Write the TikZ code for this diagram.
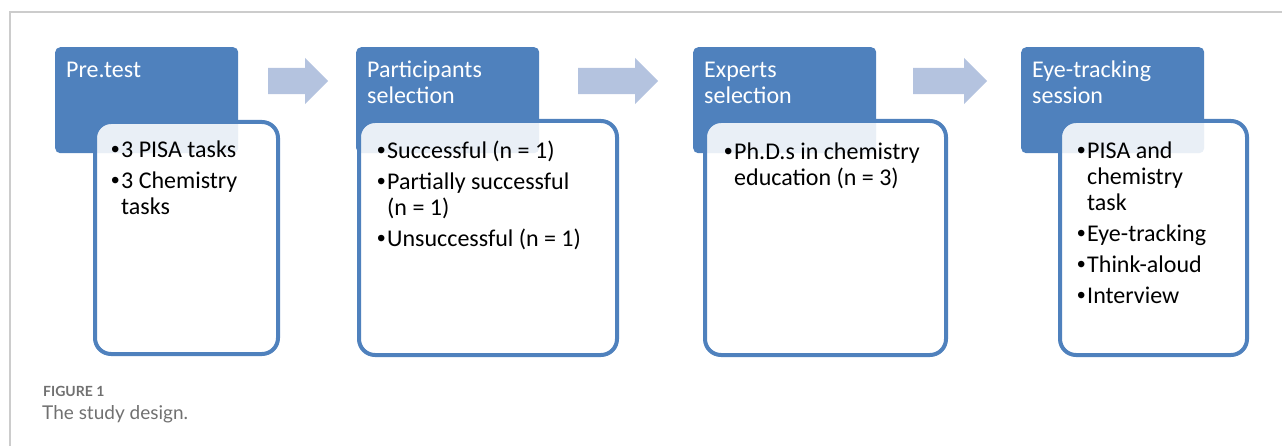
\documentclass[tikz,border=0pt]{standalone}
\usepackage{fontspec}
\setmainfont{Carlito}
\newfontfamily\capfont{Lato}
\newfontfamily\bulfont{Liberation Sans}
\usepackage{tikz}
\usetikzlibrary{shapes.arrows,positioning}
\definecolor{stageblue} {HTML}{4F81BD}
\definecolor{arrowblue} {HTML}{B4C3DF}
\definecolor{framegray} {HTML}{CCCCCC}
\definecolor{capgray}   {HTML}{707070}
\newcommand{\pbul}{\makebox[10pt][l]{\bulfont •}}
\newcommand{\pind}{\hspace*{10pt}}

\begin{document}
\begin{tikzpicture}[
  x=1pt, y=-1pt,
  hdr/.style  ={fill=stageblue,rounded corners=5pt,minimum width=183pt,
                minimum height=106pt,anchor=north west,inner sep=0pt},
  body/.style ={draw=stageblue,line width=4pt,fill=white,fill opacity=0.88,
                rounded corners=16pt,anchor=north west,inner sep=0pt,
                minimum height=234pt},
  ttl/.style  ={text=white,align=left,inner sep=0pt,
                font=\fontsize{24}{26}\selectfont},
  lst/.style  ={text=black,align=left,inner sep=0pt,
                font=\fontsize{24}{26}\selectfont},
  blk/.style  ={single arrow,fill=arrowblue,inner xsep=0pt,inner ysep=13pt,
                single arrow head extend=10pt,single arrow tip angle=90,
                anchor=tail},
  captxt/.style={anchor=base west,inner sep=0pt,text=capgray}
]
\useasboundingbox (0,0) rectangle (1282,446);

%% frame of the figure
\draw[framegray,line width=1.5pt] (10,446) -- (10,12) -- (1282,12);

%% header boxes (x = 55 / 356 / 693 / 1021)
\node[hdr] (h1) at (55,47)   {};
\node[hdr] (h2) at (356,47)  {};
\node[hdr] (h3) at (693,47)  {};
\node[hdr] (h4) at (1021,47) {};

\node[ttl,below right=12pt and 11pt of h1.north west] (t1) {\strut Pre.test};
\node[ttl,below right=12pt and 11pt of h2.north west] (t2) {\strut Participants\\selection};
\node[ttl,below right=12pt and 11pt of h3.north west] (t3) {\strut Experts\\selection};
\node[ttl,below right=12pt and 11pt of h4.north west] (t4) {\strut Eye-tracking\\session};

%% body boxes, lying over the headers
\node[body,minimum width=183pt,minimum height=232pt] (b1) at (93,120)  {};
\node[body,minimum width=258pt] (b2) at (357,119)  {};
\node[body,minimum width=241pt] (b3) at (703,119)  {};
\node[body,minimum width=187pt] (b4) at (1058,119) {};

\node[lst,below right=19pt and 18pt of b1.north west] (l1)
  {\strut\pbul 3 PISA tasks\\[5pt]
   \pbul 3 Chemistry\\\pind tasks};
\node[lst,below right=21pt and 20pt of b2.north west] (l2)
  {\strut\pbul Successful (n = 1)\\[5pt]
   \pbul Partially successful\\\pind (n = 1)\\[5pt]
   \pbul Unsuccessful (n = 1)};
\node[lst,below right=22pt and 21pt of b3.north west] (l3)
  {\strut\pbul Ph.D.s in chemistry\\\pind education (n = 3)};
\node[lst,below right=21pt and 19pt of b4.north west] (l4)
  {\strut\pbul PISA and\\\pind chemistry\\\pind task\\[5pt]
   \pbul Eye-tracking\\[5pt]
   \pbul Think-aloud\\[5pt]
   \pbul Interview};

%% block arrows between the stages (tail x = 268 / 578 / 913)
\node[blk,minimum height=60pt] (a1) at (268,81) {};
\node[blk,minimum height=80pt] (a2) at (578,81) {};
\node[blk,minimum height=74pt] (a3) at (913,81) {};

%% caption
\node[captxt,font=\capfont\bfseries\fontsize{14}{16}\selectfont] (fig) at (43,396) {FIGURE 1};
\node[captxt,font=\capfont\fontsize{19}{22}\selectfont] (capt) at (42,419) {The study design.};

\end{tikzpicture}
\end{document}
